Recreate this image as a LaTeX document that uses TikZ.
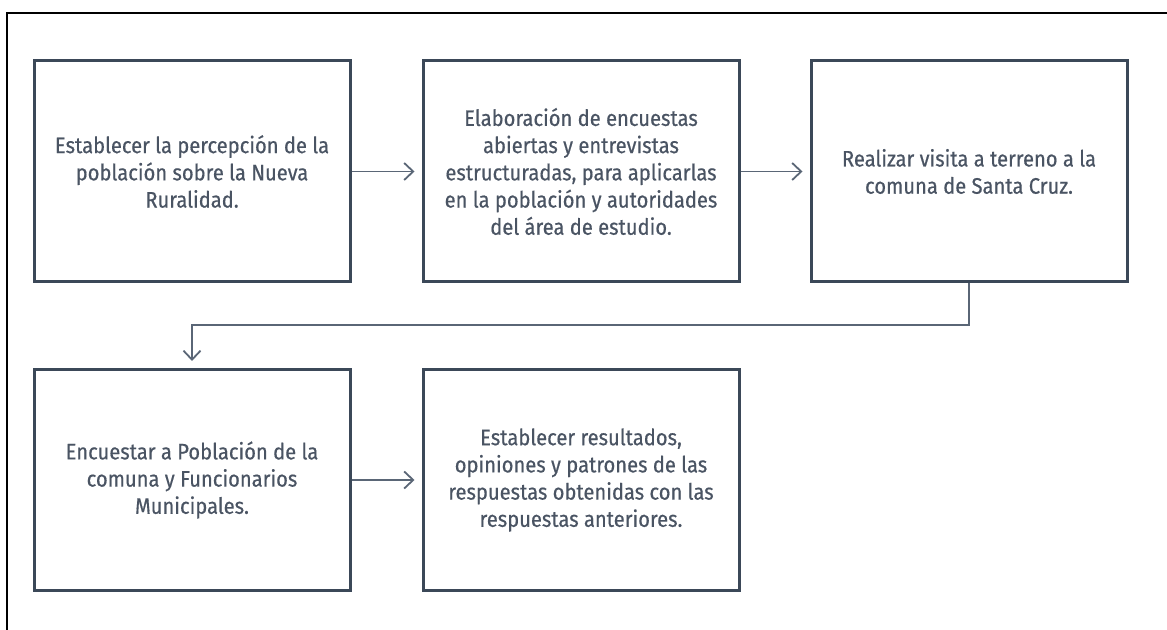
\documentclass[tikz,border=0pt]{standalone}
\usepackage{fontspec}
\newfontfamily\pasofont{Fira Sans}[FakeStretch=0.9, FakeBold=0.5]
\usetikzlibrary{arrows.meta}
\definecolor{borde}{HTML}{3B4858}
\definecolor{flecha}{HTML}{5A6676}
\definecolor{texto}{HTML}{4A5463}
\begin{document}
\begin{tikzpicture}[x=0.5pt, y=-0.5pt,
    paso/.style={draw=borde, line width=1.5pt, minimum width=158pt, minimum height=110.5pt,
      align=center, text=texto, inner sep=0pt,
      font=\pasofont\fontsize{11.2}{13.6}\selectfont},
    flujo/.style={draw=flecha, line width=0.9pt, shorten >=3.5pt,
      -{Straight Barb[length=4.5pt, width=8.5pt, line width=0.9pt]}}]
    \useasboundingbox (0,0) rectangle (1167,630);

    % Marco
    \draw[line width=0.75pt] (1167,13) -- (7,13) -- (7,630);

    % Fila superior
    \node[paso] (p1) at (192,171.5) {Establecer la percepción de la\\población sobre la Nueva\\Ruralidad.};
    \node[paso] (p2) at (581,171.5) {Elaboración de encuestas\\abiertas y entrevistas\\estructuradas, para aplicarlas\\en la población y autoridades\\del área de estudio.};
    \node[paso] (p3) at (969,171.5) {Realizar visita a terreno a la\\comuna de Santa Cruz.};

    % Fila inferior
    \node[paso] (p4) at (192,480) {Encuestar a Población de la\\comuna y Funcionarios\\Municipales.};
    \node[paso] (p5) at (581,480) {Establecer resultados,\\opiniones y patrones de las\\respuestas obtenidas con las\\respuestas anteriores.};

    % Flechas
    \draw[flujo] (p1) -- (p2);
    \draw[flujo] (p2) -- (p3);
    \coordinate (giro) at (969,325);
    \draw[flujo] (p3.south) -- (giro) -| (p4.north);
    \draw[flujo] (p4) -- (p5);
\end{tikzpicture}
\end{document}
